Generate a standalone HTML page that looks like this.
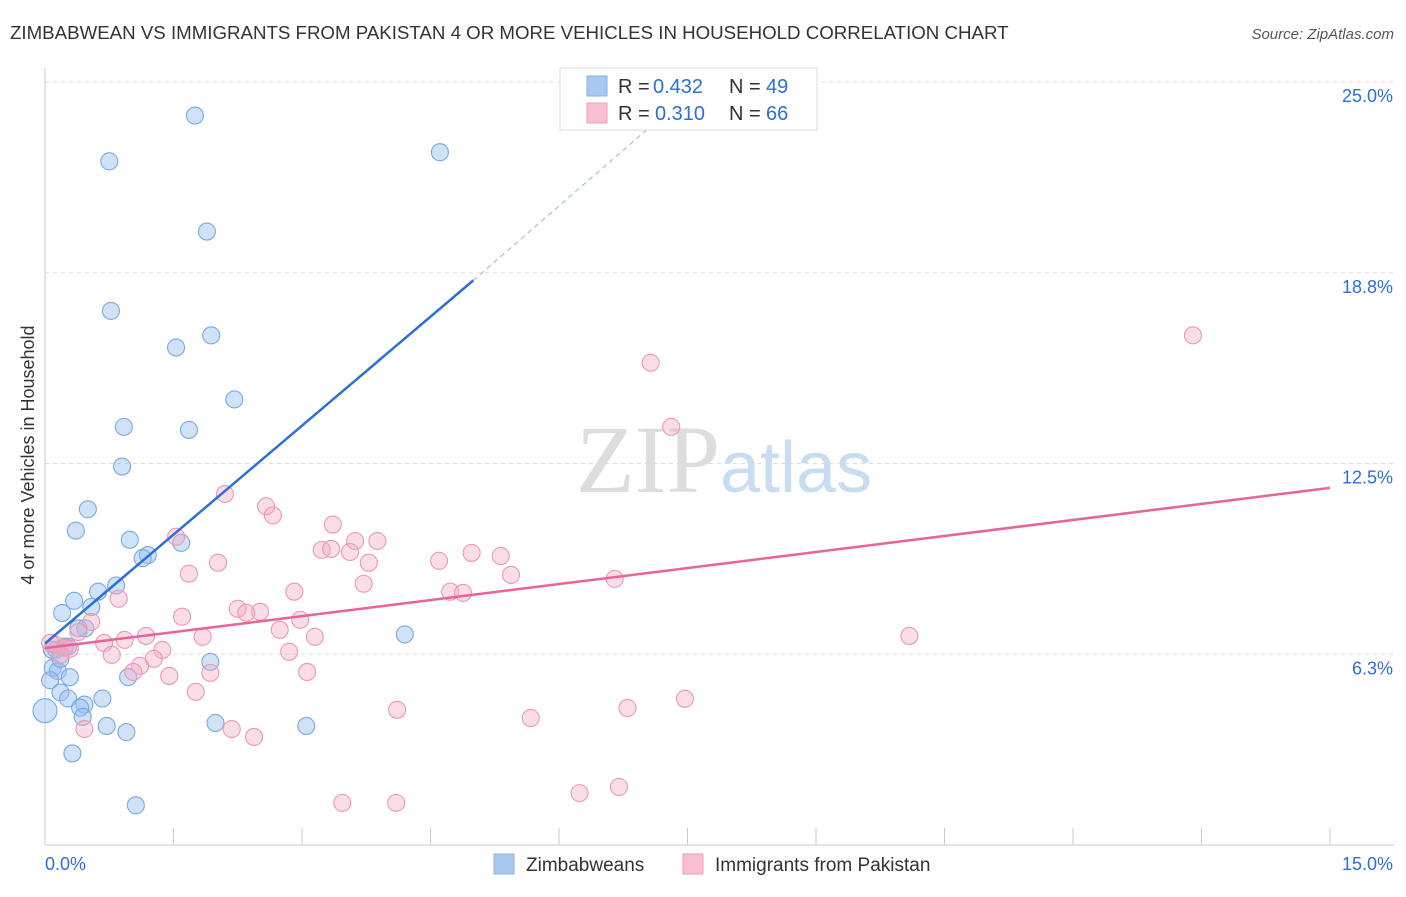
<!DOCTYPE html>
<html><head><meta charset="utf-8"><style>
body{margin:0;background:#fff;font-family:"Liberation Sans",sans-serif}
</style></head><body>
<svg id="c" width="1406" height="892" xmlns="http://www.w3.org/2000/svg">
<text x="10" y="39" font-size="18.7" fill="#333">ZIMBABWEAN VS IMMIGRANTS FROM PAKISTAN 4 OR MORE VEHICLES IN HOUSEHOLD CORRELATION CHART</text>
<text x="1394" y="39" font-size="15" fill="#555" font-style="italic" text-anchor="end">Source: ZipAtlas.com</text>
<text x="720" y="492" font-size="96" fill="#ddd" text-anchor="end" font-family="Liberation Serif">ZIP</text>
<text x="720" y="492" font-size="72" fill="#c8dcf2">atlas</text>
<g id="grid"></g><g id="pts"></g><g id="lines"></g>
<text transform="translate(34,455) rotate(-90)" font-size="18" fill="#333" text-anchor="middle">4 or more Vehicles in Household</text>
<g>
<rect x="560" y="68" width="257" height="62" fill="#fff" stroke="#ddd"/>
<rect x="587" y="76" width="20" height="20" fill="#a8c8f0" stroke="#8ab2e6"/>
<rect x="587" y="103" width="20" height="20" fill="#f8c0d2" stroke="#eea0b8"/>
<text x="618" y="93" font-size="20" fill="#333">R = </text>
<text x="653" y="93" font-size="20" fill="#2d6fd6">0.432</text>
<text x="729" y="93" font-size="20" fill="#333">N = </text>
<text x="766" y="93" font-size="20" fill="#2d6fd6">49</text>
<text x="618" y="120" font-size="20" fill="#333">R = </text>
<text x="655" y="120" font-size="20" fill="#2d6fd6">0.310</text>
<text x="729" y="120" font-size="20" fill="#333">N = </text>
<text x="766" y="120" font-size="20" fill="#2d6fd6">66</text>
</g>
<g>
<rect x="494" y="854" width="20" height="20" fill="#a8c8f0" stroke="#8ab2e6"/>
<text x="526" y="871" font-size="19" fill="#333">Zimbabweans</text>
<rect x="683" y="854" width="20" height="20" fill="#f8c0d2" stroke="#eea0b8"/>
<text x="715" y="871" font-size="19" fill="#333">Immigrants from Pakistan</text>
</g>
</svg>
<script>
const yTicks=[25,18.75,12.5,6.25];
const yTickLabels=["25.0%","18.8%","12.5%","6.3%"];
const xTickLabels=["0.0%","15.0%"];
const blueX=[1.75,0.75,4.61,1.89,0.77,1.94,1.53,2.21,0.92,1.68,0.90,0.50,0.36,0.99,1.59,1.20,1.14,0.83,0.62,0.34,0.20,0.54,0.47,0.39,4.20,0.23,0.27,0.13,0.08,1.93,0.09,0.15,0.29,0.97,0.06,0.18,0.27,0.67,0.46,0.41,0.44,0.0,1.99,3.05,0.72,0.95,0.32,1.06,0.18];
const blueY=[23.9,22.4,22.7,20.1,17.5,16.7,16.3,14.6,13.7,13.6,12.4,11.0,10.3,10.0,9.9,9.5,9.4,8.5,8.3,8.0,7.6,7.8,7.1,7.1,6.9,6.5,6.5,6.4,6.4,6.0,5.8,5.7,5.5,5.5,5.4,5.0,4.8,4.8,4.6,4.5,4.2,4.4,4.0,3.9,3.9,3.7,3.0,1.3,6.1];
const pinkX=[13.4,7.07,7.31,2.10,2.58,2.66,3.36,1.53,3.88,3.62,3.23,3.34,3.56,4.98,5.32,4.60,2.02,3.78,1.68,5.44,6.65,3.72,2.91,4.73,4.88,0.86,2.25,2.51,2.35,1.60,2.98,0.54,2.74,10.09,0.39,1.18,3.15,0.93,1.84,0.69,0.12,0.23,0.29,1.37,0.78,2.85,1.27,1.11,1.03,3.06,1.45,1.93,1.76,7.47,6.80,4.11,5.67,0.46,2.18,2.44,6.24,6.70,3.47,4.10,0.06,0.18];
const pinkY=[16.7,15.8,13.7,11.5,11.1,10.8,10.5,10.1,9.96,9.96,9.67,9.7,9.6,9.57,9.47,9.31,9.25,9.25,8.89,8.85,8.72,8.56,8.3,8.3,8.26,8.07,7.74,7.64,7.61,7.48,7.38,7.31,7.05,6.85,6.98,6.85,6.82,6.72,6.82,6.62,6.56,6.46,6.43,6.39,6.23,6.33,6.1,5.87,5.67,5.67,5.54,5.64,5.02,4.79,4.49,4.43,4.16,3.8,3.8,3.54,1.7,1.9,1.38,1.38,6.62,6.23];
const S="http://www.w3.org/2000/svg";
const X0=45,X1=1330,YB=845,YT=82;
const xs=v=>X0+(X1-X0)*v/15, ys=v=>YB-(YB-YT)*v/25;
function mk(t,a,p){const e=document.createElementNS(S,t);for(const k in a)e.setAttribute(k,a[k]);p.appendChild(e);return e;}
const g=document.getElementById('grid');
yTicks.forEach((v,i)=>{
 const l=mk('line',{x1:X0,x2:1394,y1:ys(v),y2:ys(v),stroke:'#ddd','stroke-dasharray':'4,4'},g);
 
 
 const t=mk('text',{x:1393,y:ys(v)+20,'font-size':18,fill:'#2d6fd6','text-anchor':'end'},g);t.textContent=yTickLabels[i];
 
 
});
mk('line',{x1:X0,x2:X0,y1:68,y2:YB,stroke:'#ccc'},g);
mk('line',{x1:X0,x2:1394,y1:YB,y2:YB,stroke:'#ccc'},g);
for(let i=0;i<=10;i++){mk('line',{x1:xs(i*1.5),x2:xs(i*1.5),y1:YB,y2:828,stroke:'#ccc'},g);}
[[0,'start',X0],[1,'end',1393]].forEach(([i,a,x])=>{const t=mk('text',{x:x,y:870,'font-size':18,fill:'#2d6fd6','text-anchor':a},g);t.textContent=xTickLabels[i];
 
 });
const p=document.getElementById('pts');
blueX.forEach((v,i)=>{const c=mk('circle',{cx:xs(v),cy:ys(blueY[i]),r:i==41?12:8.5,fill:'rgba(150,190,240,0.45)',stroke:'#7aa8e4','stroke-width':1.1},p);
 
 });
pinkX.forEach((v,i)=>{const c=mk('circle',{cx:xs(v),cy:ys(pinkY[i]),r:8.5,fill:'rgba(245,170,195,0.4)',stroke:'#ec98b3','stroke-width':1.1},p);
 
 });
const L=document.getElementById('lines');
const bl=mk('line',{x1:xs(0),y1:ys(6.6),x2:xs(5.0),y2:ys(18.5),stroke:'#2d6fd6','stroke-width':2.5},L);


mk('line',{x1:xs(5.0),y1:ys(18.5),x2:xs(7.05),y2:ys(23.5),stroke:'#8fb3e6','stroke-width':1,'stroke-dasharray':'5,4'},L);
const pl=mk('line',{x1:xs(0),y1:ys(6.45),x2:xs(15),y2:ys(11.7),stroke:'#e8639a','stroke-width':2.5},L);


</script>
</body></html>
